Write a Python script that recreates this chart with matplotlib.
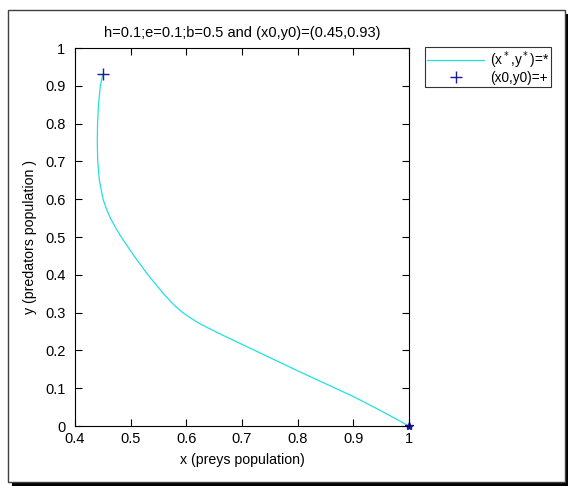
import numpy as np
import matplotlib.pyplot as plt
from matplotlib.patches import Rectangle

plt.rcParams['font.family'] = ['Liberation Sans', 'DejaVu Sans']

# trajectory
x_traj = [0.4500, 0.4455, 0.4422, 0.4405, 0.4400, 0.4408, 0.4438, 0.4503, 0.4563,
          0.4635, 0.4728, 0.4830, 0.5060, 0.5310, 0.5590, 0.5780, 0.5935, 0.6085,
          0.6250, 0.6600, 0.7000, 0.7500, 0.8000, 0.8500, 0.9000, 0.9500, 1.0000]
y_traj = [0.930, 0.900, 0.850, 0.800, 0.750, 0.700, 0.650, 0.600, 0.575,
          0.550, 0.525, 0.500, 0.450, 0.400, 0.350, 0.320, 0.300, 0.285,
          0.270, 0.244, 0.216, 0.181, 0.146, 0.112, 0.078, 0.040, 0.000]
x0, y0 = 0.45, 0.93
xs, ys = 1.0, 0.0

title = 'h=0.1;e=0.1;b=0.5 and (x0,y0)=(0.45,0.93)'

fig = plt.figure(figsize=(5.68, 4.86), dpi=100)

# framed border with drop shadow
W, H = 568.0, 486.0
fig.patches.append(Rectangle((12 / W, 1 - 486 / H), 556 / W, 472 / H, transform=fig.transFigure,
                             facecolor='black', edgecolor='none', zorder=0))
fig.patches.append(Rectangle((8 / W, 1 - 482 / H), 557 / W, 472 / H, transform=fig.transFigure,
                             facecolor='white', edgecolor='#404040', linewidth=1.0, zorder=1))

ax = fig.add_axes([75 / W, 1 - 426 / H, 334 / W, 378 / H])
ax.set_zorder(2)

line, = ax.plot(x_traj, y_traj, color='#22e0e0', linewidth=0.9, label=r'(x$^*$,y$^*$)=*')
p0, = ax.plot([x0], [y0], '+', color='#1a1aa0', markersize=8, markeredgewidth=1.0,
              linestyle='none', label='(x0,y0)=+')
ax.plot([xs], [ys], '*', color='#1a1aa0', markersize=6, linestyle='none', clip_on=False)

ax.set_xlim(0.4, 1.0)
ax.set_ylim(0, 1)
ax.set_xticks(np.arange(0.4, 1.01, 0.1))
ax.set_xticklabels(['0.4', '0.5', '0.6', '0.7', '0.8', '0.9', '1'])
ax.set_yticks(np.arange(0, 1.01, 0.1))
ax.set_yticklabels(['0', '0.1', '0.2', '0.3', '0.4', '0.5', '0.6', '0.7', '0.8', '0.9', '1'])
ax.tick_params(direction='in', length=5, width=0.8, top=True, right=True, labelsize=10.5)
ax.tick_params(axis='y', pad=7)
ax.tick_params(axis='x', pad=4)
for s in ax.spines.values():
    s.set_linewidth(0.8)

ax.set_title(title, fontsize=10.5, pad=8)
ax.set_xlabel('x (preys population)', fontsize=10.2, labelpad=5)
ax.set_ylabel('y (predators population )', fontsize=10.2, labelpad=6)

leg = fig.legend(handles=[line, p0], loc='upper left', bbox_to_anchor=(425 / W, 1 - 47 / H),
                 fontsize=9.8, frameon=True, fancybox=False, handlelength=4.2,
                 borderaxespad=0, borderpad=0.15, labelspacing=0.0, handletextpad=0.4)
leg.get_frame().set_edgecolor('black')
leg.get_frame().set_linewidth(0.8)
leg.set_zorder(3)

fig.savefig('out.png', dpi=100)
